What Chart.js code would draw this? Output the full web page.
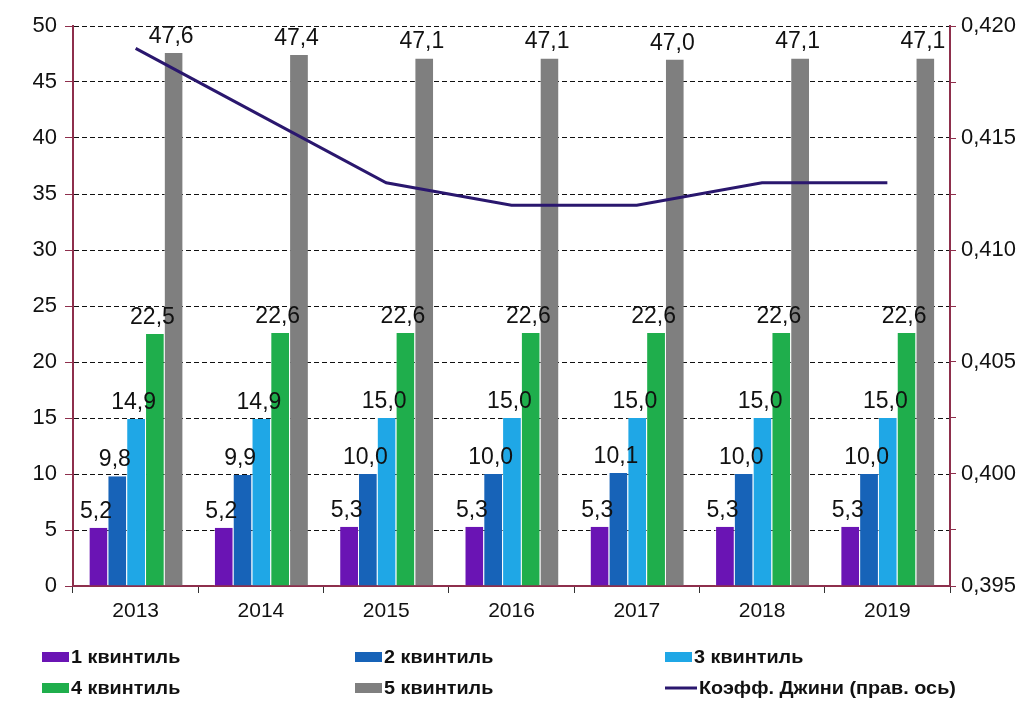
<!DOCTYPE html>
<html>
<head>
<meta charset="utf-8">
<script src="https://cdn.jsdelivr.net/npm/chart.js@4/dist/chart.umd.min.js"></script>
<style>
    html, body { margin: 0; padding: 0; background: #fff; }
    #wrap { width: 1031px; height: 702px; position: relative; }
</style>
</head>
<body>
<div id="wrap"><canvas id="chart"></canvas></div>
<script>
// годы
const years = ['2013', '2014', '2015', '2016', '2017', '2018', '2019'];

// доли доходов по квинтилям, %
const q1 = [5.2, 5.2, 5.3, 5.3, 5.3, 5.3, 5.3];
const q2 = [9.8, 9.9, 10.0, 10.0, 10.1, 10.0, 10.0];
const q3 = [14.9, 14.9, 15.0, 15.0, 15.0, 15.0, 15.0];
const q4 = [22.5, 22.6, 22.6, 22.6, 22.6, 22.6, 22.6];
const q5 = [47.6, 47.4, 47.1, 47.1, 47.0, 47.1, 47.1];

// коэффициент Джини (правая ось)
const gini = [0.419, 0.416, 0.413, 0.412, 0.412, 0.413, 0.413];

const barNames = ['1 квинтиль', '2 квинтиль', '3 квинтиль', '4 квинтиль', '5 квинтиль'];
const barColors = ['#6a14b4', '#1763b8', '#1fa7e6', '#1fae4c', '#7f7f7f'];
const lineName = 'Коэфф. Джини (прав. ось)';
const lineColor = '#2a176e';
const axisColor = '#8e2f4c';

const fmt = v => v.toFixed(1).replace('.', ',');

// подписи над столбцами
const barLabels = {
    id: 'barLabels',
    afterDatasetsDraw(chart) {
        const ctx = chart.ctx;
        ctx.save();
        ctx.font = '23px Arial, "Liberation Sans"';
        ctx.fillStyle = '#111';
        ctx.textAlign = 'center';
        ctx.textBaseline = 'alphabetic';
        chart.data.datasets.forEach((ds, i) => {
            if (ds.type === 'line') return;
            chart.getDatasetMeta(i).data.forEach((bar, j) => {
                ctx.fillText(fmt(ds.data[j]), bar.x - 2, bar.y - 10);
            });
        });
        ctx.restore();
    }
};

// легенда в три колонки
const legendGrid = {
    id: 'legendGrid',
    afterDraw(chart) {
        const ctx = chart.ctx;
        const cols = [42, 355, 665];
        const rows = [657, 688];
        const items = barNames.map((n, i) => ({ name: n, color: barColors[i], line: false }));
        items.push({ name: lineName, color: lineColor, line: true });
        ctx.save();
        ctx.textBaseline = 'middle';
        items.forEach((it, k) => {
            const x = cols[k % 3];
            const y = rows[Math.floor(k / 3)];
            if (it.line) {
                ctx.strokeStyle = it.color;
                ctx.lineWidth = 3;
                ctx.beginPath();
                ctx.moveTo(x, y);
                ctx.lineTo(x + 32, y);
                ctx.stroke();
            } else {
                ctx.fillStyle = it.color;
                ctx.fillRect(x, y - 5, 27, 10);
            }
            ctx.fillStyle = '#111';
            const tx = x + (it.line ? 34 : 29);
            ctx.save();
            ctx.translate(tx, y + 1);
            ctx.scale(1.1, 1);
            ctx.font = 'bold 18px Arial, "Liberation Sans"';
            ctx.fillText(it.name, 0, 0);
            ctx.restore();
        });
        ctx.restore();
    }
};

const datasets = [q1, q2, q3, q4, q5].map((d, i) => ({
    type: 'bar',
    label: barNames[i],
    data: d,
    backgroundColor: barColors[i],
    borderColor: 'rgba(255,255,255,0.5)',
    borderWidth: { left: 1 },
    yAxisID: 'y',
    order: 2
}));
datasets.push({
    type: 'line',
    label: lineName,
    data: gini,
    borderColor: lineColor,
    borderWidth: 3,
    pointRadius: 0,
    tension: 0,
    yAxisID: 'y1',
    order: 0
});

new Chart(document.getElementById('chart'), {
    data: { labels: years, datasets },
    options: {
        responsive: true,
        maintainAspectRatio: false,
        animation: false,
        layout: { padding: { top: 26, left: 0, right: 0, bottom: 76 } },
        datasets: {
            bar: { categoryPercentage: 0.75, barPercentage: 1 }
        },
        plugins: {
            legend: { display: false },
            tooltip: { enabled: false }
        },
        scales: {
            x: {
                afterFit: s => { s.height = 40; },
                border: { color: axisColor, width: 2 },
                grid: { drawOnChartArea: false, offset: true, tickLength: 7, color: '#333' },
                ticks: { color: '#111', font: { family: 'Arial', size: 21 }, padding: 6 }
            },
            y: {
                min: 0, max: 50,
                afterFit: s => { s.width = 73; },
                border: { color: axisColor, width: 2, dash: [5, 3] },
                grid: { color: '#111', tickLength: 8, tickColor: axisColor, tickBorderDash: [] },
                ticks: { stepSize: 5, color: '#111', font: { family: 'Arial', size: 22 }, padding: 8 }
            },
            y1: {
                position: 'right',
                min: 0.395, max: 0.420,
                afterFit: s => { s.width = 81; },
                border: { color: axisColor, width: 2 },
                grid: { drawOnChartArea: false, tickLength: 6, color: axisColor },
                ticks: {
                    stepSize: 0.0025,
                    color: '#111',
                    font: { family: 'Arial', size: 22 },
                    padding: 5,
                    callback: (v, i) => i % 2 === 0 ? v.toFixed(3).replace('.', ',') : ''
                }
            }
        }
    },
    plugins: [barLabels, legendGrid]
});
</script>
</body>
</html>
